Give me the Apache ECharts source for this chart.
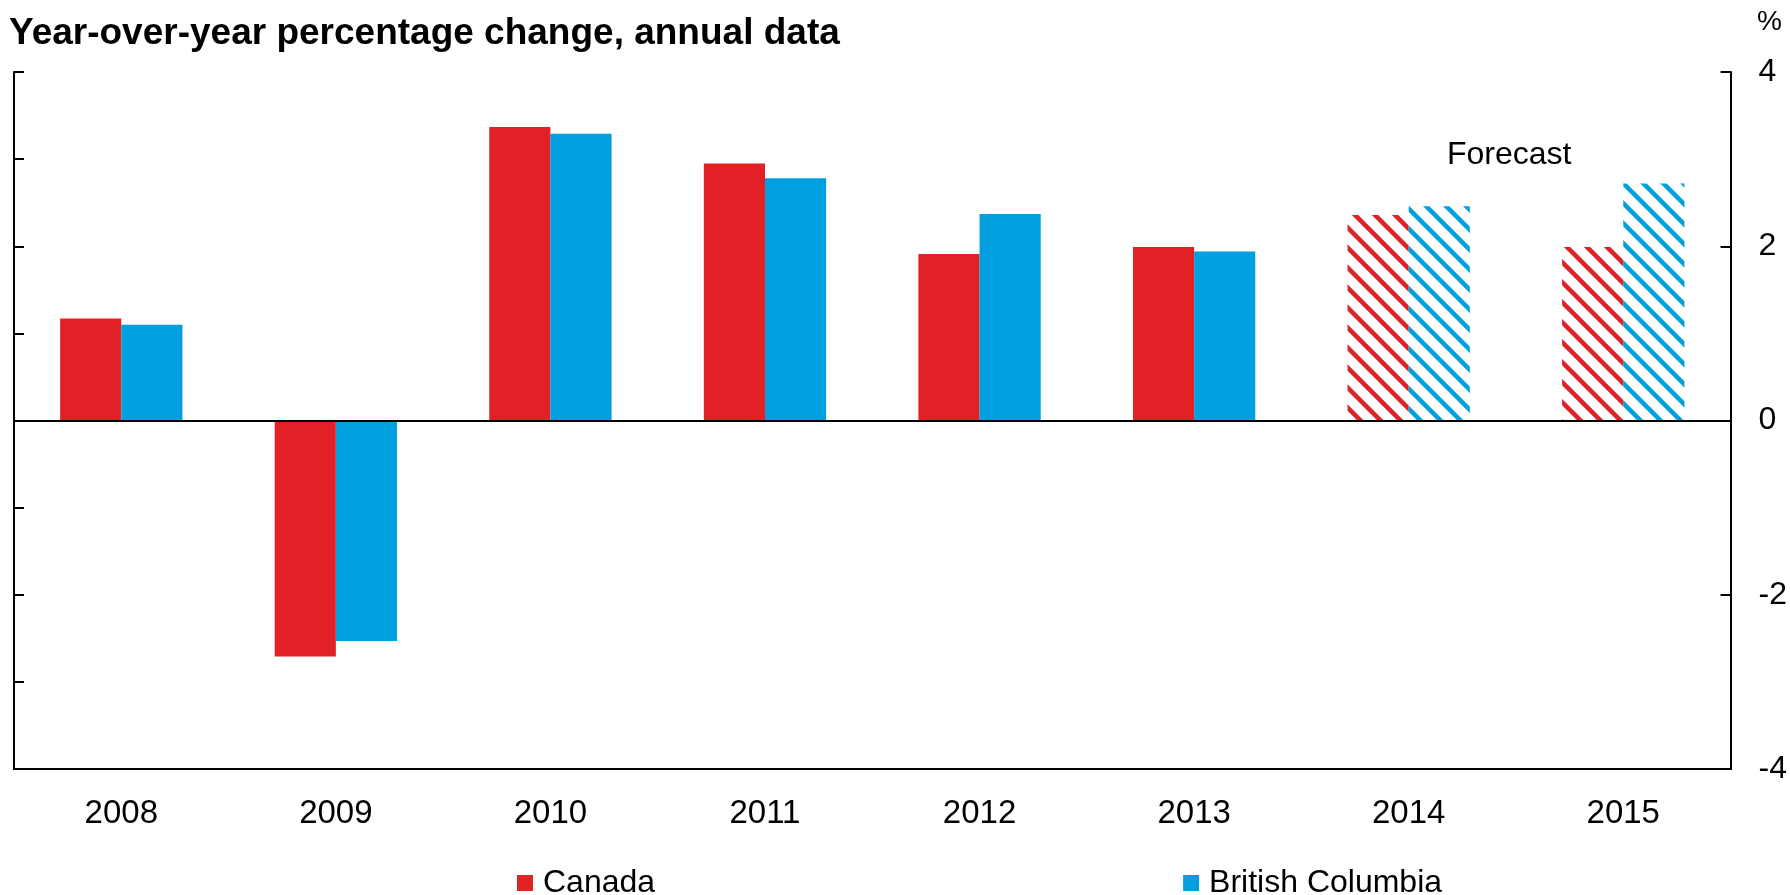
<!DOCTYPE html>
<html>
<head>
<meta charset="utf-8">
<script src="https://cdn.jsdelivr.net/npm/echarts@6/dist/echarts.min.js"></script>
<style>
html,body{margin:0;padding:0;background:#fff}
#chart{width:1790px;height:895px}
</style>
</head>
<body>
<div id="chart"></div>
<script>
var years = ['2008','2009','2010','2011','2012','2013','2014','2015'];
var canada = [1.17,-2.71,3.37,2.95,1.91,1.99,2.36,1.99];
var britishColumbia = [1.10,-2.53,3.29,2.78,2.37,1.94,2.46,2.72];
var forecastYears = ['2014','2015'];

var red = '#E12126';
var blue = '#009FDF';
var font = "'Liberation Sans', Arial, sans-serif";

// diagonal hatch tile for forecast bars
function hatch(col){
  var c = document.createElement('canvas');
  c.width = 20; c.height = 20;
  var ctx = c.getContext('2d');
  ctx.fillStyle = '#fff';
  ctx.fillRect(0,0,20,20);
  ctx.strokeStyle = col;
  ctx.lineWidth = 4.5;
  ctx.beginPath();
  ctx.moveTo(-10,-10); ctx.lineTo(30,30);
  ctx.moveTo(-10,10); ctx.lineTo(10,30);
  ctx.moveTo(10,-10); ctx.lineTo(30,10);
  ctx.stroke();
  return {image: c, repeat: 'repeat'};
}

function build(values, col){
  var out = [];
  for(var i=0;i<values.length;i++){
    if(forecastYears.indexOf(years[i])!=-1){
      out.push({value: values[i], itemStyle: {color: hatch(col)}});
    }
    else{
      out.push(values[i]);
    }
  }
  return out;
}

var myChart = echarts.init(document.getElementById('chart'));
option = {
  animation: false,
  textStyle: {fontFamily: font},
  title: {
    text: 'Year-over-year percentage change, annual data',
    left: 4,
    top: 10,
    textStyle: {fontSize: 37, fontWeight: 'bold', color: '#000', fontFamily: font}
  },
  legend: {
    data: ['Canada','British Columbia'],
    left: 517,
    top: 867,
    padding: 0,
    itemWidth: 16,
    itemHeight: 16,
    itemGap: 528,
    icon: 'rect',
    textStyle: {fontSize: 32, color: '#000', fontFamily: font, padding: [0,0,0,5]}
  },
  grid: {
    left: 14,
    right: 57,
    top: 72,
    bottom: 126
  },
  graphic: [
    {type: 'text', left: 1757, top: 8, style: {text: '%', fontSize: 28, fill: '#000', fontFamily: font}},
    {type: 'text', left: 1447, top: 139, style: {text: 'Forecast', fontSize: 32, fill: '#000', fontFamily: font}}
  ],
  xAxis: {
    type: 'category',
    data: years,
    axisLine: {onZero: false, lineStyle: {color: '#000', width: 2}},
    axisTick: {inside: true, length: 12, lineStyle: {color: '#000', width: 1}},
    axisLabel: {fontSize: 33, color: '#000', margin: 28, fontFamily: font}
  },
  yAxis: [
    {
      type: 'value',
      position: 'left',
      min: -4, max: 4, interval: 1,
      axisLine: {show: true, lineStyle: {color: '#000', width: 2}},
      axisTick: {show: true, inside: true, length: 10, lineStyle: {color: '#000', width: 2}},
      axisLabel: {show: false},
      splitLine: {show: false}
    },
    {
      type: 'value',
      position: 'right',
      min: -4, max: 4, interval: 2,
      axisLine: {show: true, lineStyle: {color: '#000', width: 2}},
      axisTick: {show: true, inside: true, length: 10, lineStyle: {color: '#000', width: 2}},
      axisLabel: {fontSize: 32, color: '#000', margin: 28, fontFamily: font},
      splitLine: {show: false}
    }
  ],
  series: [
    {
      name: 'Canada',
      type: 'bar',
      data: build(canada, red),
      itemStyle: {color: red},
      barGap: '0%',
      barCategoryGap: '43%',
      markLine: {
        silent: true,
        symbol: 'none',
        label: {show: false},
        lineStyle: {color: '#000', width: 2, type: 'solid'},
        data: [{yAxis: 0}]
      }
    },
    {
      name: 'British Columbia',
      type: 'bar',
      data: build(britishColumbia, blue),
      itemStyle: {color: blue},
      barGap: '0%',
      barCategoryGap: '43%'
    }
  ]
};
myChart.setOption(option);
</script>
</body>
</html>
